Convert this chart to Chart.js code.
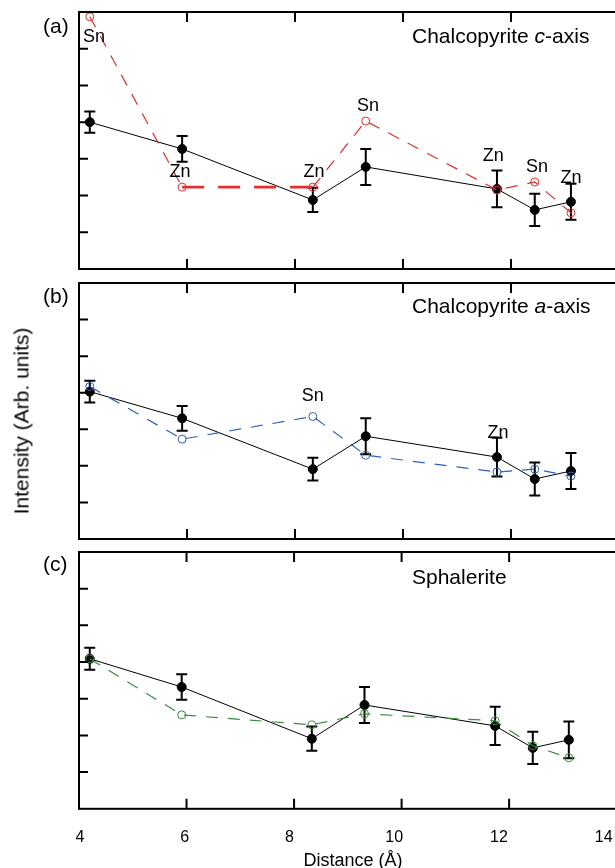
<!DOCTYPE html>
<html>
<head>
<meta charset="utf-8">
<script src="https://cdn.jsdelivr.net/npm/chart.js@4.4.1/dist/chart.umd.min.js"></script>
<style>
  html, body { margin: 0; padding: 0; background: #fff; overflow: hidden; }
  #wrap { position: relative; width: 615px; height: 868px; overflow: hidden; font-family: 'Liberation Sans', Arial, sans-serif; color: #000; }
  canvas { position: absolute; left: 0; }
  .txt { position: absolute; font-size: 21px; line-height: 21px; white-space: nowrap; }
</style>
</head>
<body>
<div id="wrap">
  <canvas id="c1" width="625" height="276" style="top:0px"></canvas>
  <canvas id="c2" width="625" height="270" style="top:276px"></canvas>
  <canvas id="c3" width="632" height="320" style="top:546px"></canvas>
  <div class="txt" style="left:43px;top:15px">(a)</div>
  <div class="txt" style="left:43px;top:285px">(b)</div>
  <div class="txt" style="left:43px;top:553px">(c)</div>
  <div class="txt" style="left:412px;top:25px">Chalcopyrite <i>c</i>-axis</div>
  <div class="txt" style="left:412px;top:295px">Chalcopyrite <i>a</i>-axis</div>
  <div class="txt" style="left:412px;top:566px">Sphalerite</div>
  <div class="txt" style="left:20.7px;top:421px;transform:translate(-50%,-50%) rotate(-90deg)">Intensity (Arb. units)</div>
  <div class="txt" style="left:353px;top:851px;font-size:18px;line-height:18px;transform:translateX(-50%)">Distance (Å)</div>
</div>
<script>
// shared x positions (distance in Å) and ticks
const xValues = [4.2, 5.91, 8.33, 9.31, 11.74, 12.44, 13.11];
const xTicks = [4, 6, 8, 10, 12, 14];
const yTicks = [1, 2, 3, 4, 5, 6];

// (a) chalcopyrite c-axis
const cAxisMeasured = [4.0, 3.27, 1.88, 2.78, 2.18, 1.61, 1.83];
const cAxisError = [0.29, 0.35, 0.33, 0.49, 0.5, 0.44, 0.49];
const cAxisModel = [6.87, 2.23, 2.23, 4.03, 2.15, 2.37, 1.53];
const cAxisLabelText = ['Sn', 'Zn', 'Zn', 'Sn', 'Zn', 'Sn', 'Zn'];
const cAxisLabelX = [4.28, 5.87, 8.35, 9.35, 11.67, 12.48, 13.11];
const cAxisLabelY = [6.32, 2.64, 2.64, 4.44, 3.08, 2.78, 2.48];

// (b) chalcopyrite a-axis
const aAxisMeasured = [4.03, 3.30, 1.91, 2.81, 2.24, 1.64, 1.86];
const aAxisError = [0.3, 0.34, 0.31, 0.49, 0.53, 0.45, 0.49];
const aAxisModel = [4.17, 2.73, 3.35, 2.29, 1.83, 1.91, 1.72];
const aAxisLabelText = ['Sn', 'Zn'];
const aAxisLabelX = [8.33, 11.76];
const aAxisLabelY = [3.92, 2.89];

// (c) sphalerite
const sphMeasured = [4.09, 3.32, 1.91, 2.83, 2.26, 1.66, 1.88];
const sphError = [0.3, 0.35, 0.33, 0.49, 0.52, 0.44, 0.5];
const sphModel = [4.09, 2.56, 2.29, 2.59, 2.40, 1.72, 1.39];

Chart.defaults.font.family = "'Liberation Sans', Arial, sans-serif";
Chart.defaults.color = '#000';

const errorBars = {
  id: 'errorBars',
  beforeDatasetsDraw(chart) {
    const { ctx, scales: { x, y } } = chart;
    chart.data.datasets.forEach(ds => {
      if (!ds.errors) return;
      ctx.save();
      ctx.strokeStyle = '#000';
      ctx.lineWidth = 2;
      ctx.beginPath();
      ds.data.forEach((p, i) => {
        const px = x.getPixelForValue(p.x);
        const top = y.getPixelForValue(p.y + ds.errors[i]);
        const bot = y.getPixelForValue(p.y - ds.errors[i]);
        ctx.moveTo(px, top); ctx.lineTo(px, bot);
        ctx.moveTo(px - 5.5, top); ctx.lineTo(px + 5.5, top);
        ctx.moveTo(px - 5.5, bot); ctx.lineTo(px + 5.5, bot);
      });
      ctx.stroke();
      ctx.restore();
    });
  }
};

const frame = {
  id: 'frame',
  afterDatasetsDraw(chart) {
    const { ctx, chartArea: a, scales: { x, y } } = chart;
    ctx.save();
    ctx.strokeStyle = '#000';
    ctx.lineWidth = 2;
    ctx.strokeRect(a.left, a.top, a.right - a.left, a.bottom - a.top);
    ctx.beginPath();
    xTicks.forEach(v => {
      const px = x.getPixelForValue(v);
      ctx.moveTo(px, a.top); ctx.lineTo(px, a.top + 10);
      ctx.moveTo(px, a.bottom); ctx.lineTo(px, a.bottom - 10);
    });
    yTicks.forEach(v => {
      const py = y.getPixelForValue(v);
      ctx.moveTo(a.left, py); ctx.lineTo(a.left + 9, py);
    });
    ctx.stroke();
    ctx.restore();
  }
};

const siteLabels = {
  id: 'siteLabels',
  afterDatasetsDraw(chart, args, opts) {
    if (!opts.text) return;
    const { ctx, scales: { x, y } } = chart;
    ctx.save();
    ctx.font = "18px 'Liberation Sans', Arial, sans-serif";
    ctx.fillStyle = '#000';
    ctx.textAlign = 'center';
    ctx.textBaseline = 'middle';
    opts.text.forEach((t, i) => ctx.fillText(t, x.getPixelForValue(opts.x[i]), y.getPixelForValue(opts.y[i])));
    ctx.restore();
  }
};

function points(vals) {
  return xValues.map((x, i) => ({ x, y: vals[i] }));
}

const flat = c => c.p0.parsed.y === c.p1.parsed.y;

function makeChart(id, measured, errors, model, color, labels, padding, bottomAxis) {
  const scales = {
    x: { type: 'linear', min: 4, max: 14, display: false },
    y: { type: 'linear', min: 0, max: 7, display: false }
  };
  if (bottomAxis) {
    // tick labels sit slightly left of the tick marks in the original
    scales.xl = {
      type: 'linear', position: 'bottom', min: 3.981, max: 14.247,
      grid: { display: false, drawTicks: false }, border: { display: false },
      afterBuildTicks: s => { s.ticks = xTicks.map(v => ({ value: v })); },
      ticks: { font: { size: 16 }, padding: 19, color: '#000', maxRotation: 0 }
    };
  }
  return new Chart(document.getElementById(id), {
    type: 'line',
    data: {
      datasets: [
        {
          data: points(model),
          borderColor: color, backgroundColor: 'transparent',
          borderWidth: 1.2, borderDash: [12, 10],
          segment: {
            borderWidth: c => flat(c) ? 2.6 : 1.2,
            borderDash: c => flat(c) ? [22, 14] : [12, 10]
          },
          pointRadius: 4, pointBorderWidth: 1, pointBorderColor: color, pointBackgroundColor: 'transparent',
          tension: 0
        },
        {
          data: points(measured), errors,
          borderColor: '#000', borderWidth: 1,
          pointRadius: 4.5, pointBackgroundColor: '#000', pointBorderColor: '#000',
          tension: 0
        }
      ]
    },
    options: {
      responsive: false, animation: false,
      layout: { padding },
      scales,
      plugins: { legend: { display: false }, tooltip: { enabled: false }, siteLabels: labels }
    },
    plugins: [errorBars, frame, siteLabels]
  });
}

makeChart('c1', cAxisMeasured, cAxisError, cAxisModel, '#e0302f',
  { text: cAxisLabelText, x: cAxisLabelX, y: cAxisLabelY },
  { left: 79, right: 6, top: 12, bottom: 7 }, false);
makeChart('c2', aAxisMeasured, aAxisError, aAxisModel, '#3060b8',
  { text: aAxisLabelText, x: aAxisLabelX, y: aAxisLabelY },
  { left: 79, right: 6, top: 7, bottom: 7 }, false);
makeChart('c3', sphMeasured, sphError, sphModel, '#3a8a40',
  {}, { left: 79, right: 6, top: 6, bottom: 0 }, true);
</script>
</body>
</html>
